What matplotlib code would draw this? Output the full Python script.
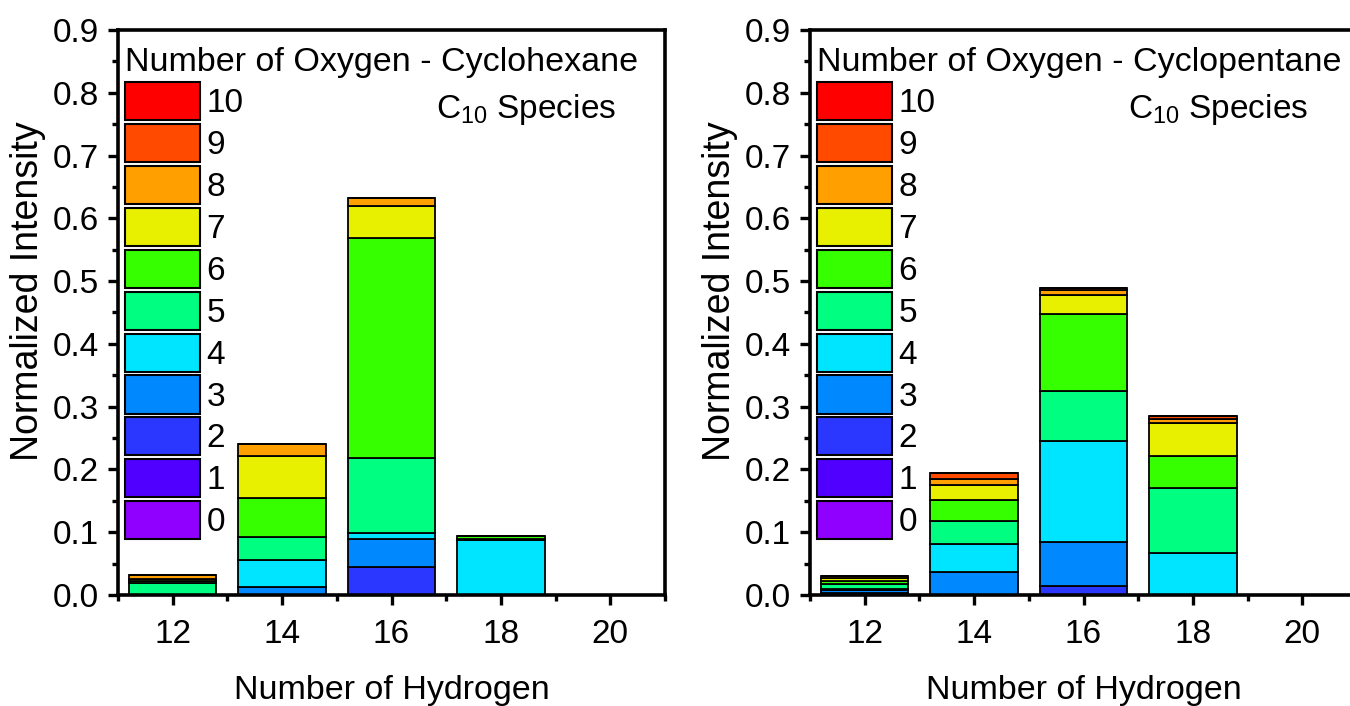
import matplotlib
matplotlib.use("Agg")
import matplotlib.pyplot as plt
from matplotlib.patches import Patch
from matplotlib.ticker import MultipleLocator, FormatStrFormatter

plt.rcParams["font.family"] = ["Liberation Sans", "DejaVu Sans"]
plt.rcParams["mathtext.default"] = "regular"

# Number of hydrogen (x categories)
hydrogen = [12, 14, 16, 18, 20]
oxygen = list(range(11))

# stacked intensities, one row per number of oxygen (0..10), columns follow `hydrogen`
cyclohexane = [
    [0, 0, 0, 0, 0],
    [0, 0, 0, 0, 0],
    [0, 0, 0.044, 0, 0],
    [0, 0.012, 0.046, 0, 0],
    [0, 0.043, 0.008, 0.087, 0],
    [0.019, 0.037, 0.121, 0.003, 0],
    [0.004, 0.063, 0.349, 0.004, 0],
    [0.002, 0.067, 0.052, 0, 0],
    [0.007, 0.018, 0.013, 0, 0],
    [0, 0, 0, 0, 0],
    [0, 0, 0, 0, 0],
]
cyclopentane = [
    [0, 0, 0, 0, 0],
    [0, 0, 0, 0, 0],
    [0.003, 0, 0.015, 0, 0],
    [0.005, 0.036, 0.070, 0, 0],
    [0.002, 0.046, 0.160, 0.067, 0],
    [0.008, 0.036, 0.080, 0.104, 0],
    [0.005, 0.033, 0.123, 0.051, 0],
    [0.004, 0.024, 0.030, 0.052, 0],
    [0.003, 0.010, 0.008, 0.007, 0],
    [0, 0.010, 0.003, 0.004, 0],
    [0, 0, 0, 0, 0],
]

COLORS = ["#9000FF", "#5000FF", "#2B36FF", "#0088FF", "#00E5FF", "#00FF80",
          "#36FF00", "#E8F000", "#FF9F00", "#FF4A00", "#FF0000"]
FS = 24


def panel(ax, data, name):
    bottom = [0.0] * len(hydrogen)
    for o, row in zip(oxygen, data):
        ax.bar(hydrogen, row, width=1.6, bottom=bottom, color=COLORS[o],
               edgecolor="black", linewidth=1.3)
        bottom = [b + v for b, v in zip(bottom, row)]

    ax.set_xlim(11, 21)
    ax.set_ylim(0, 0.9)
    ax.xaxis.set_major_locator(MultipleLocator(2))
    ax.xaxis.set_minor_locator(MultipleLocator(1))
    ax.yaxis.set_major_locator(MultipleLocator(0.1))
    ax.yaxis.set_minor_locator(MultipleLocator(0.05))
    ax.yaxis.set_major_formatter(FormatStrFormatter("%.1f"))
    ax.tick_params(which="major", length=7.5, width=2.4, labelsize=FS, pad=6)
    ax.tick_params(which="minor", length=4, width=2.4)
    ax.tick_params(axis="x", which="major", pad=10)
    for s in ax.spines.values():
        s.set_linewidth(2.6)
    ax.set_xlabel("Number of Hydrogen", fontsize=24.5, labelpad=18)
    ax.set_ylabel("Normalized Intensity", fontsize=27, va="center")
    ax.yaxis.set_label_coords(-0.165, 0.538)

    handles = [Patch(facecolor=COLORS[o], edgecolor="black", linewidth=1.5, label=str(o))
               for o in reversed(oxygen)]
    ax.legend(handles=handles, title=f"Number of Oxygen - {name}", loc="upper left",
              bbox_to_anchor=(-0.009, 0.99), frameon=False, fontsize=FS, title_fontsize=24.5,
              handlelength=2.25, handleheight=1.38, labelspacing=0.115,
              handletextpad=0.2, borderaxespad=0.15, borderpad=0.2, alignment="left")
    ax.text(0.581, 0.844, "C$_{10}$ Species", transform=ax.transAxes, fontsize=FS,
            va="baseline", ha="left")


fig = plt.figure(figsize=(13.5, 7.06), dpi=100)
ax1 = fig.add_axes([118 / 1350, 111 / 706, 547 / 1350, 565 / 706])
ax2 = fig.add_axes([810 / 1350, 111 / 706, 547 / 1350, 565 / 706])
panel(ax1, cyclohexane, "Cyclohexane")
panel(ax2, cyclopentane, "Cyclopentane")

fig.savefig("out.png", dpi=100)
